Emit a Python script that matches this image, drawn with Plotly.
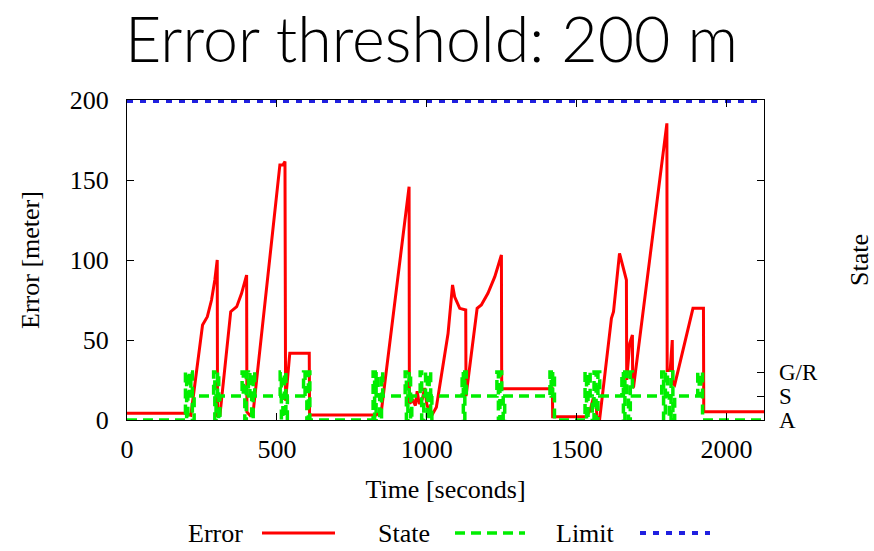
import plotly.graph_objects as go

# ---- data ----
error_t = [0, 193, 213, 252, 268, 282, 293, 301, 302, 310, 346, 366, 382, 399, 400, 410, 421,
           510, 520, 527, 529, 543, 608, 609, 832, 849, 941, 942, 955, 962, 968, 975, 985,
           993, 1000, 1010, 1017, 1032, 1071, 1086, 1093, 1110, 1130, 1131, 1168, 1182, 1204,
           1227, 1249, 1250, 1419, 1420, 1532, 1545, 1554, 1566, 1567, 1577, 1616, 1623, 1643,
           1666, 1667, 1677, 1686, 1687, 1690, 1790, 1801, 1802, 1812, 1819, 1820, 1827, 1888,
           1923, 1924, 2125]
error_v = [4.2, 4.2, 3, 59.4, 64.6, 75, 87.5, 100, 2, 3, 67.7, 70.8, 79, 90.6, 5, 3, 5.2,
           159.4, 159.4, 161.5, 12, 41.7, 41.7, 3.1, 3.1, 6.25, 145.8, 10.4, 12, 9, 18, 10, 13,
           20, 10, 4, 3, 8, 54, 84.4, 77, 69.8, 68.75, 15, 69.8, 71.9, 79.2,
           89.6, 103.1, 19.5, 19.5, 2.1, 2.1, 6, 12.5, 11, 2, 1, 63.5, 67.7, 104.2,
           87.5, 25, 47.9, 53.1, 20, 20.8, 166.7, 185.4, 31, 31, 50, 23, 21.9, 69.8,
           69.8, 5.2, 5.2]

# state levels: A = 0, S = 15, G/R = 30 (drawn on the same scale)
state_t = [0,
           195, 199, 203, 208, 213, 218, 224,
           289, 293, 297, 302, 306, 310,
           384, 388, 393, 398, 405, 410, 416, 421, 426,
           511, 515, 520, 525, 530, 535,
           589, 594, 600, 605, 610,
           821, 826, 831, 837, 843, 849, 853,
           928, 932, 937, 941, 946, 950,
           978, 983, 990, 996, 1002, 1008, 1013, 1017,
           1118, 1122, 1127, 1132,
           1234, 1239, 1244, 1250, 1255, 1260,
           1411, 1415, 1420, 1426,
           1528, 1533, 1538, 1545, 1552, 1558, 1565, 1571, 1577,
           1651, 1656, 1661, 1667, 1673, 1679, 1686,
           1784, 1790, 1796, 1803, 1809, 1815, 1821, 1827,
           1904, 1909, 1914, 1920,
           2125]
state_v = [0,
           30, 0, 30, 15, 30, 0, 15,
           30, 0, 15, 30, 0, 15,
           30, 15, 0, 30, 15, 30, 0, 30, 15,
           30, 0, 15, 30, 0, 15,
           30, 15, 0, 30, 0,
           30, 0, 30, 15, 0, 30, 15,
           30, 0, 15, 30, 0, 15,
           30, 0, 15, 30, 0, 30, 0, 15,
           30, 0, 30, 15,
           30, 0, 30, 15, 0, 15,
           30, 15, 30, 0,
           30, 0, 30, 15, 0, 30, 0, 30, 15,
           30, 0, 30, 15, 0, 30, 15,
           30, 0, 30, 15, 0, 30, 0, 15,
           30, 15, 30, 0,
           0]

limit_t = [0, 2125]
limit_v = [200, 200]

state_tickvals = [0, 15, 30]
state_ticktext = ["A", "S", "G/R"]

RED = "#ff0000"
GREEN = "#00ee00"
BLUE = "#2020e0"
SERIF = "Liberation Serif"

fig = go.Figure()
fig.add_trace(go.Scatter(x=error_t, y=error_v, mode="lines", name="Error",
                         line=dict(color=RED, width=3), showlegend=False))
fig.add_trace(go.Scatter(x=state_t, y=state_v, mode="lines", name="State",
                         line=dict(color=GREEN, width=3.5, dash="10px,6px", shape="hv"),
                         showlegend=False))
fig.add_trace(go.Scatter(x=limit_t, y=limit_v, mode="lines", name="Limit",
                         line=dict(color=BLUE, width=6, dash="6px,7px"), showlegend=False))
# invisible trace to activate right axis
fig.add_trace(go.Scatter(x=[0], y=[0], yaxis="y2", mode="lines", line=dict(width=0),
                         hoverinfo="skip", showlegend=False))

W, H = 874, 551
L, R, T, B = 127, 110, 100, 131

fig.update_layout(
    width=W, height=H,
    margin=dict(l=L, r=R, t=T, b=B, pad=0, autoexpand=False),
    paper_bgcolor="white", plot_bgcolor="white",
    showlegend=False,
    font=dict(family=SERIF, size=26, color="black"),
    title=dict(text="Error threshold: 200 m", x=431.5 / W, xref="container", xanchor="center",
               y=1 - 40 / H, yref="container", yanchor="middle", automargin=False,
               font=dict(family="Lato", size=62.7, color="black", weight=300)),
    xaxis=dict(range=[0, 2125], dtick=500, tick0=0, ticks="inside", ticklen=7,
               tickcolor="black", showline=True, linecolor="black", linewidth=1.2,
               mirror="ticks", showgrid=False, zeroline=False, automargin=False,
               ticklabelstandoff=6, tickfont=dict(size=26),
               title=dict(text="Time [seconds]", standoff=16, font=dict(size=26))),
    yaxis=dict(range=[0, 200], dtick=50, tick0=0, ticks="inside", ticklen=7,
               tickcolor="black", showline=True, linecolor="black", linewidth=1.2,
               mirror="ticks", showgrid=False, zeroline=False, automargin=False,
               ticklabelstandoff=12, tickfont=dict(size=26),
               title=dict(text="Error [meter]", standoff=22, font=dict(size=26))),
    yaxis2=dict(range=[0, 200], overlaying="y", side="right", tickvals=state_tickvals,
                ticktext=state_ticktext, ticks="inside", ticklen=7, tickcolor="black",
                showline=False, showgrid=False, zeroline=False, automargin=False,
                ticklabelstandoff=14, tickfont=dict(size=23),
                title=dict(text="State", standoff=42, font=dict(size=26))),
)

# manual legend (text before line sample, as in the reference)
def px2paper_x(px):
    return (px - L) / (W - L - R)

def py2paper_y(py):
    return (H - B - py) / (H - T - B)

ly = py2paper_y(533)
legend_items = [("Error", 245, 262, 335, dict(color=RED, width=3)),
                ("State", 432, 455, 525, dict(color=GREEN, width=3.5, dash="10px,6px")),
                ("Limit", 617, 640, 710, dict(color=BLUE, width=4, dash="6px,7px"))]
for text, tx, x0, x1, ln in legend_items:
    fig.add_annotation(text=text, x=px2paper_x(tx), y=ly, xref="paper", yref="paper",
                       xanchor="right", yanchor="middle", showarrow=False,
                       font=dict(family=SERIF, size=26, color="black"))
    fig.add_shape(type="line", xref="paper", yref="paper",
                  x0=px2paper_x(x0), x1=px2paper_x(x1), y0=ly, y1=ly, line=ln)

fig.write_html("out.html")
